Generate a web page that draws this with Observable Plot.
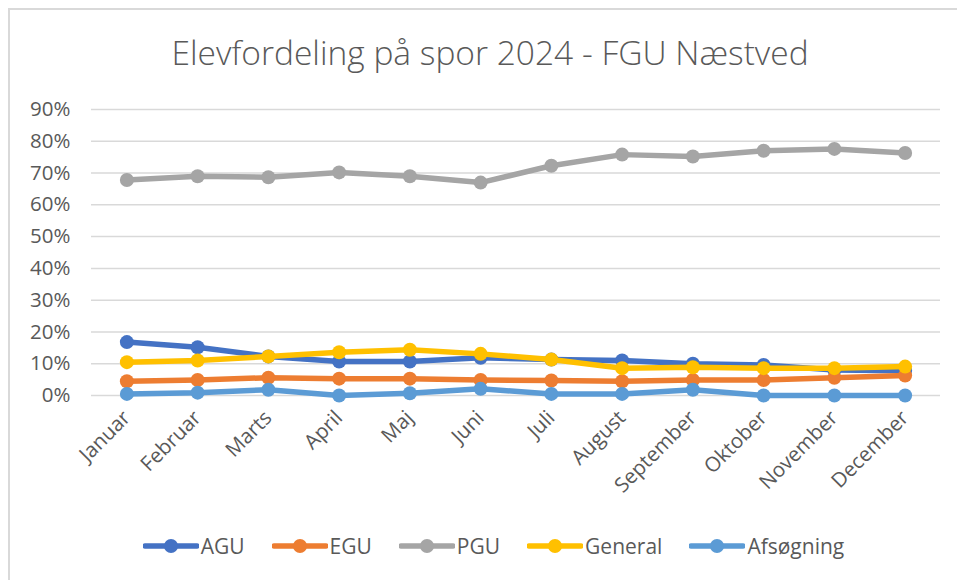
<!DOCTYPE html>
<html>
<head>
<meta charset="utf-8">
<script src="https://cdn.jsdelivr.net/npm/d3@7"></script>
<script src="https://cdn.jsdelivr.net/npm/@observablehq/plot@0.6"></script>
<style>
  html, body { margin: 0; padding: 0; background: #fff; }
  #wrap { position: relative; width: 957px; height: 580px; overflow: hidden; font-family: "Open Sans", sans-serif; color: #595959; }
  #frame { position: absolute; left: 8px; top: 8px; right: -4px; bottom: -4px; border-top: 2px solid #d9d9d9; border-left: 2px solid #d9d9d9; }
  #title { position: absolute; left: 0; width: 980px; top: 28px; text-align: center; font-size: 33.5px; font-weight: 300; line-height: 48px; color: #595959; }
  #chart { position: absolute; left: 0; top: 80px; }
  #legend { position: absolute; left: 0; width: 987px; top: 532px; display: flex; justify-content: center; align-items: center; font-size: 21px; line-height: 28px; }
  .item { display: flex; align-items: center; margin: 0 13.5px; }
  .item svg { margin-right: 2px; }
</style>
</head>
<body>
<div id="wrap">
  <div id="frame"></div>
  <div id="title">Elevfordeling på spor 2024 - FGU Næstved</div>
  <div id="chart"></div>
  <div id="legend"></div>
</div>
<script>
const months = ["Januar","Februar","Marts","April","Maj","Juni","Juli","August","September","Oktober","November","December"];
const seriesNames = ["AGU","EGU","PGU","General","Afsøgning"];
const seriesColors = ["#4472C4","#ED7D31","#A5A5A5","#FFC000","#5B9BD5"];
const agu = [16.8,15.2,12.3,10.7,10.7,11.9,11.3,11.0,10.0,9.6,8.0,7.8];
const egu = [4.5,4.9,5.6,5.3,5.3,4.9,4.7,4.5,4.9,4.9,5.6,6.3];
const pgu = [67.8,69.0,68.7,70.2,69.0,67.0,72.3,75.8,75.2,77.0,77.6,76.3];
const general = [10.5,11.0,12.3,13.6,14.4,13.1,11.3,8.6,8.9,8.6,8.6,9.1];
const afsogning = [0.5,0.9,1.8,0.0,0.7,2.1,0.5,0.5,1.8,0.0,0.0,0.0];
const yTicks = [0,0.1,0.2,0.3,0.4,0.5,0.6,0.7,0.8,0.9];

const seriesValues = [agu, egu, pgu, general, afsogning];
const data = [];
seriesNames.forEach((name, si) => {
  months.forEach((m, i) => data.push({series: name, month: m, value: seriesValues[si][i] / 100}));
});

const chart = Plot.plot({
  width: 957,
  height: 450,
  marginTop: 29,
  marginBottom: 135,
  marginLeft: 91,
  marginRight: 17,
  style: {fontFamily: "Open Sans, sans-serif", fontSize: "20.5px", color: "#595959", background: "transparent"},
  x: {type: "point", domain: months, padding: 0.5, round: false, label: null},
  y: {domain: [0, 0.9], label: null},
  color: {domain: seriesNames, range: seriesColors},
  marks: [
    Plot.gridY(yTicks, {stroke: "#d9d9d9", strokeOpacity: 1, strokeWidth: 1.5}),
    Plot.axisY({ticks: yTicks, tickFormat: d3.format(".0%"), tickSize: 0, tickPadding: 21, label: null, fill: "#595959"}),
    Plot.axisX({tickRotate: -45, tickSize: 0, tickPadding: 19, label: null, fill: "#595959"}),
    ...seriesNames.map(name => [
      Plot.line(data.filter(d => d.series === name), {x: "month", y: "value", stroke: "series", strokeWidth: 5.5, strokeLinejoin: "round", strokeLinecap: "round"}),
      Plot.dot(data.filter(d => d.series === name), {x: "month", y: "value", fill: "series", r: 7})
    ]).flat()
  ]
});
document.getElementById("chart").appendChild(chart);

const legend = document.getElementById("legend");
seriesNames.forEach((name, i) => {
  const item = document.createElement("div");
  item.className = "item";
  item.innerHTML = `<svg width="56" height="16"><line x1="2" y1="8" x2="54" y2="8" stroke="${seriesColors[i]}" stroke-width="5.5" stroke-linecap="round"/><circle cx="28" cy="8" r="7" fill="${seriesColors[i]}"/></svg><span>${name}</span>`;
  legend.appendChild(item);
});
</script>
</body>
</html>
